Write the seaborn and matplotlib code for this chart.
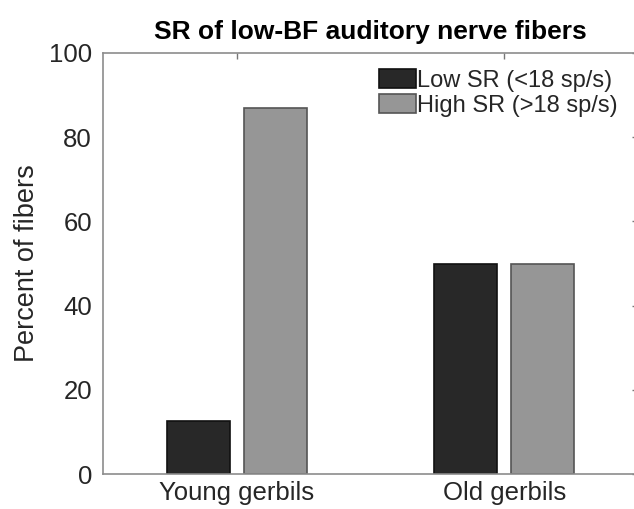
import matplotlib
matplotlib.use("Agg")
import matplotlib.pyplot as plt
import pandas as pd
import seaborn as sns

# Data
groups = ["Young gerbils", "Old gerbils"]
sr_classes = ["Low SR (<18 sp/s)", "High SR (>18 sp/s)"]
low_sr = [12.6, 50]
high_sr = [87, 50]
colors = ["#282828", "#969696"]
edges = ["#111111", "#555555"]

df = pd.DataFrame({
    "group": groups * 2,
    "sr": [sr_classes[0]] * 2 + [sr_classes[1]] * 2,
    "percent": low_sr + high_sr,
})

sns.set_theme(style="white")
plt.rcParams["font.family"] = ["Liberation Sans", "DejaVu Sans"]

fig = plt.figure(figsize=(6.34, 5.09), dpi=100)
# axes box runs slightly past the right image edge, like the cropped original
ax = fig.add_axes([103 / 634, 35 / 509, 535 / 634, 421 / 509])

sns.barplot(data=df, x="group", y="percent", hue="sr", order=groups,
            hue_order=sr_classes, palette=colors,
            width=0.575, gap=0.18, linewidth=1.2,
            saturation=1, ax=ax)

# edge colour per series
for cont, ec in zip(ax.containers, edges):
    for bar in cont:
        bar.set_edgecolor(ec)

ax.set_xlim(-0.5, 1.5)
ax.set_ylim(0, 100)
ax.set_yticks([0, 20, 40, 60, 80, 100])
ax.tick_params(axis="both", direction="in", length=4, width=1, color="#777777",
               labelsize=18.5, top=True, right=True, labelcolor="#262626")
ax.tick_params(axis="y", pad=8)
ax.tick_params(axis="x", pad=5)
for s in ax.spines.values():
    s.set_visible(True)
    s.set_color("#8c8c8c")
    s.set_linewidth(1.2)
ax.set_xlabel("")
ax.set_ylabel("Percent of fibers", fontsize=19.5, color="#262626", labelpad=6)
ax.set_title("SR of low-BF auditory nerve fibers", fontsize=19,
             fontweight="bold", pad=10, color="black")

leg = ax.legend(loc="upper right", bbox_to_anchor=(0.962, 0.962), frameon=False,
                fontsize=17, handlelength=1.55, handleheight=0.85,
                handletextpad=0.05, labelspacing=0.1, borderpad=0,
                borderaxespad=0)
for h, ec in zip(leg.legend_handles, edges):
    h.set_edgecolor(ec)
    h.set_linewidth(1.2)
for t in leg.get_texts():
    t.set_color("#262626")

fig.savefig("out.png", dpi=100)
